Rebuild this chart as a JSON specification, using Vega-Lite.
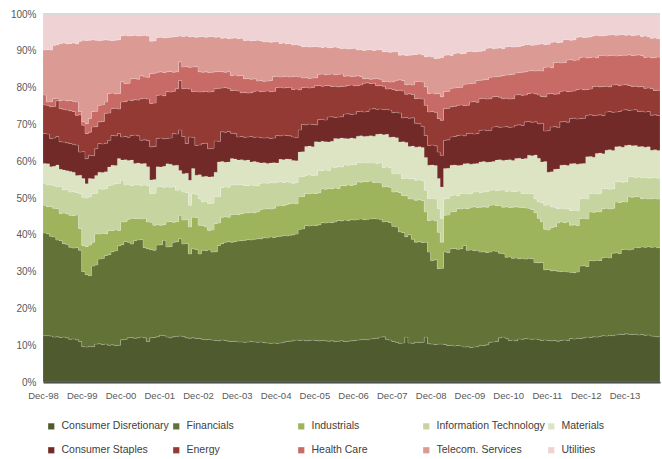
{
  "$schema": "https://vega.github.io/schema/vega-lite/v6.json",
  "width": 617,
  "height": 368,
  "autosize": {"type": "none"},
  "padding": {"left": 43, "top": 14, "right": 2, "bottom": 77},
  "background": "white",
  "config": {
    "font": "Liberation Sans, sans-serif",
    "view": {"stroke": null},
    "area": {"interpolate": "step-after", "stroke": "#ffffff", "strokeWidth": 0.5, "strokeOpacity": 0.3},
    "axis": {"labelFont": "Liberation Sans, sans-serif", "labelColor": "#595959", "labelFontSize": 10, "grid": false, "ticks": false, "title": null},
    "axisY": {"labelOverlap": false, "domain": false, "labelPadding": 7},
    "legend": {"orient": "bottom", "direction": "horizontal", "columns": 5, "gridAlign": "all", "symbolType": "square", "symbolSize": 40, "symbolStrokeWidth": 0, "labelFont": "Liberation Sans, sans-serif", "labelFontSize": 10.5, "labelColor": "#404040", "labelLimit": 0, "labelOffset": 5, "columnPadding": -1, "rowPadding": 13, "offset": 18, "padding": 3}
  },
  "data": {"values": [
{"date":"1998-12","cdTop":12.6,"finTop":40.5,"indTop":48.0,"itTop":54.0,"matTop":59.4,"csTop":67.5,"enTop":75.3,"hcTop":78.0,"telTop":90.2},
{"date":"1999-01","cdTop":12.6,"finTop":40.3,"indTop":47.6,"itTop":53.5,"matTop":59.3,"csTop":67.4,"enTop":75.2,"hcTop":76.1,"telTop":90.3},
{"date":"1999-02","cdTop":12.5,"finTop":39.6,"indTop":47.7,"itTop":53.6,"matTop":58.5,"csTop":66.2,"enTop":74.8,"hcTop":76.2,"telTop":90.2},
{"date":"1999-03","cdTop":12.2,"finTop":39.4,"indTop":47.2,"itTop":53.4,"matTop":58.6,"csTop":66.3,"enTop":74.9,"hcTop":77.0,"telTop":91.5},
{"date":"1999-04","cdTop":12.3,"finTop":38.6,"indTop":47.1,"itTop":53.0,"matTop":59.0,"csTop":66.7,"enTop":76.4,"hcTop":77.1,"telTop":91.6},
{"date":"1999-05","cdTop":12.1,"finTop":38.4,"indTop":45.8,"itTop":53.1,"matTop":57.8,"csTop":65.3,"enTop":74.3,"hcTop":76.5,"telTop":92.0},
{"date":"1999-06","cdTop":12.2,"finTop":37.6,"indTop":45.9,"itTop":52.2,"matTop":57.6,"csTop":65.2,"enTop":74.1,"hcTop":76.6,"telTop":92.1},
{"date":"1999-07","cdTop":12.0,"finTop":37.4,"indTop":45.7,"itTop":52.3,"matTop":57.4,"csTop":65.0,"enTop":73.9,"hcTop":76.4,"telTop":91.9},
{"date":"1999-08","cdTop":11.6,"finTop":36.6,"indTop":45.3,"itTop":51.6,"matTop":57.2,"csTop":64.8,"enTop":73.7,"hcTop":76.5,"telTop":92.0},
{"date":"1999-09","cdTop":11.7,"finTop":36.4,"indTop":45.2,"itTop":51.7,"matTop":57.0,"csTop":64.6,"enTop":73.5,"hcTop":76.3,"telTop":92.1},
{"date":"1999-10","cdTop":11.5,"finTop":36.5,"indTop":45.4,"itTop":51.5,"matTop":56.1,"csTop":64.4,"enTop":72.5,"hcTop":76.1,"telTop":91.9},
{"date":"1999-11","cdTop":11.0,"finTop":35.8,"indTop":41.7,"itTop":51.2,"matTop":56.2,"csTop":62.5,"enTop":72.6,"hcTop":73.5,"telTop":92.6},
{"date":"1999-12","cdTop":9.6,"finTop":30.0,"indTop":37.1,"itTop":50.2,"matTop":55.3,"csTop":62.6,"enTop":69.8,"hcTop":70.7,"telTop":92.9},
{"date":"2000-01","cdTop":9.5,"finTop":29.2,"indTop":36.8,"itTop":50.0,"matTop":53.9,"csTop":60.7,"enTop":67.5,"hcTop":70.2,"telTop":92.8},
{"date":"2000-02","cdTop":9.7,"finTop":28.9,"indTop":37.2,"itTop":50.3,"matTop":55.3,"csTop":61.6,"enTop":67.9,"hcTop":71.6,"telTop":92.9},
{"date":"2000-03","cdTop":9.6,"finTop":31.5,"indTop":38.0,"itTop":51.2,"matTop":55.2,"csTop":61.5,"enTop":69.3,"hcTop":73.5,"telTop":93.0},
{"date":"2000-04","cdTop":10.3,"finTop":31.8,"indTop":40.3,"itTop":51.3,"matTop":56.1,"csTop":63.4,"enTop":69.4,"hcTop":73.6,"telTop":92.9},
{"date":"2000-05","cdTop":10.4,"finTop":33.4,"indTop":40.2,"itTop":52.5,"matTop":57.0,"csTop":64.8,"enTop":70.7,"hcTop":75.2,"telTop":92.8},
{"date":"2000-06","cdTop":10.2,"finTop":33.6,"indTop":40.4,"itTop":52.4,"matTop":56.9,"csTop":64.7,"enTop":70.8,"hcTop":75.3,"telTop":92.9},
{"date":"2000-07","cdTop":10.3,"finTop":34.4,"indTop":40.3,"itTop":52.6,"matTop":57.1,"csTop":64.9,"enTop":73.0,"hcTop":76.1,"telTop":93.0},
{"date":"2000-08","cdTop":10.0,"finTop":34.6,"indTop":41.2,"itTop":53.4,"matTop":58.4,"csTop":65.7,"enTop":73.1,"hcTop":78.4,"telTop":92.9},
{"date":"2000-09","cdTop":10.1,"finTop":35.4,"indTop":41.1,"itTop":53.5,"matTop":58.9,"csTop":67.0,"enTop":74.3,"hcTop":78.5,"telTop":92.8},
{"date":"2000-10","cdTop":9.9,"finTop":35.6,"indTop":41.3,"itTop":53.9,"matTop":58.8,"csTop":66.9,"enTop":74.4,"hcTop":78.3,"telTop":92.9},
{"date":"2000-11","cdTop":10.0,"finTop":37.0,"indTop":41.2,"itTop":54.0,"matTop":60.7,"csTop":67.5,"enTop":74.2,"hcTop":78.4,"telTop":93.0},
{"date":"2000-12","cdTop":11.5,"finTop":37.3,"indTop":43.5,"itTop":54.8,"matTop":60.3,"csTop":66.6,"enTop":76.1,"hcTop":81.6,"telTop":94.1},
{"date":"2001-01","cdTop":11.6,"finTop":38.2,"indTop":43.6,"itTop":53.5,"matTop":60.4,"csTop":66.7,"enTop":76.2,"hcTop":81.1,"telTop":94.2},
{"date":"2001-02","cdTop":12.0,"finTop":38.0,"indTop":44.2,"itTop":53.6,"matTop":60.2,"csTop":66.5,"enTop":76.6,"hcTop":81.2,"telTop":94.0},
{"date":"2001-03","cdTop":12.1,"finTop":37.5,"indTop":44.5,"itTop":53.4,"matTop":60.3,"csTop":67.0,"enTop":76.5,"hcTop":82.4,"telTop":94.1},
{"date":"2001-04","cdTop":11.9,"finTop":38.4,"indTop":44.4,"itTop":53.5,"matTop":59.4,"csTop":67.1,"enTop":76.7,"hcTop":82.5,"telTop":94.2},
{"date":"2001-05","cdTop":12.0,"finTop":38.6,"indTop":44.4,"itTop":53.6,"matTop":59.5,"csTop":66.9,"enTop":76.6,"hcTop":82.3,"telTop":94.0},
{"date":"2001-06","cdTop":12.2,"finTop":38.7,"indTop":44.3,"itTop":53.4,"matTop":59.3,"csTop":65.7,"enTop":77.0,"hcTop":83.3,"telTop":94.1},
{"date":"2001-07","cdTop":12.0,"finTop":36.5,"indTop":44.5,"itTop":53.5,"matTop":59.4,"csTop":65.8,"enTop":77.1,"hcTop":82.9,"telTop":94.2},
{"date":"2001-08","cdTop":11.0,"finTop":36.2,"indTop":43.5,"itTop":53.3,"matTop":58.5,"csTop":65.6,"enTop":76.9,"hcTop":82.8,"telTop":94.0},
{"date":"2001-09","cdTop":12.0,"finTop":36.0,"indTop":43.4,"itTop":51.2,"matTop":54.9,"csTop":63.9,"enTop":75.7,"hcTop":83.8,"telTop":92.6},
{"date":"2001-10","cdTop":12.1,"finTop":35.8,"indTop":42.6,"itTop":51.3,"matTop":55.0,"csTop":64.0,"enTop":75.8,"hcTop":83.9,"telTop":92.7},
{"date":"2001-11","cdTop":12.3,"finTop":37.2,"indTop":42.7,"itTop":53.0,"matTop":58.5,"csTop":66.2,"enTop":77.9,"hcTop":84.2,"telTop":93.6},
{"date":"2001-12","cdTop":12.7,"finTop":37.3,"indTop":42.6,"itTop":53.1,"matTop":58.4,"csTop":66.3,"enTop":78.0,"hcTop":84.3,"telTop":93.7},
{"date":"2002-01","cdTop":12.6,"finTop":38.5,"indTop":42.8,"itTop":52.9,"matTop":58.6,"csTop":66.1,"enTop":77.8,"hcTop":84.1,"telTop":93.5},
{"date":"2002-02","cdTop":12.2,"finTop":36.7,"indTop":43.5,"itTop":53.0,"matTop":59.3,"csTop":66.2,"enTop":78.9,"hcTop":84.3,"telTop":93.6},
{"date":"2002-03","cdTop":12.0,"finTop":36.8,"indTop":43.6,"itTop":52.9,"matTop":59.2,"csTop":66.3,"enTop":78.8,"hcTop":84.4,"telTop":93.7},
{"date":"2002-04","cdTop":12.3,"finTop":38.0,"indTop":43.4,"itTop":53.1,"matTop":58.8,"csTop":67.5,"enTop":79.0,"hcTop":84.2,"telTop":93.8},
{"date":"2002-05","cdTop":12.4,"finTop":38.1,"indTop":43.6,"itTop":52.1,"matTop":58.9,"csTop":67.4,"enTop":79.7,"hcTop":84.3,"telTop":93.9},
{"date":"2002-06","cdTop":12.5,"finTop":38.9,"indTop":45.3,"itTop":52.2,"matTop":57.5,"csTop":68.5,"enTop":81.9,"hcTop":87.0,"telTop":94.0},
{"date":"2002-07","cdTop":12.4,"finTop":37.5,"indTop":44.0,"itTop":51.6,"matTop":56.6,"csTop":66.7,"enTop":79.7,"hcTop":85.6,"telTop":93.9},
{"date":"2002-08","cdTop":12.0,"finTop":37.6,"indTop":44.1,"itTop":51.5,"matTop":56.7,"csTop":64.8,"enTop":79.8,"hcTop":85.7,"telTop":94.0},
{"date":"2002-09","cdTop":11.9,"finTop":34.8,"indTop":42.1,"itTop":48.0,"matTop":54.8,"csTop":66.6,"enTop":79.6,"hcTop":85.5,"telTop":93.8},
{"date":"2002-10","cdTop":12.0,"finTop":36.2,"indTop":44.8,"itTop":51.2,"matTop":58.0,"csTop":66.5,"enTop":78.9,"hcTop":85.6,"telTop":93.9},
{"date":"2002-11","cdTop":11.8,"finTop":36.0,"indTop":44.7,"itTop":51.0,"matTop":56.2,"csTop":64.3,"enTop":79.0,"hcTop":85.7,"telTop":93.7},
{"date":"2002-12","cdTop":11.8,"finTop":34.8,"indTop":42.6,"itTop":49.8,"matTop":56.3,"csTop":64.4,"enTop":78.8,"hcTop":84.3,"telTop":93.8},
{"date":"2003-01","cdTop":11.6,"finTop":35.8,"indTop":42.5,"itTop":49.0,"matTop":55.8,"csTop":64.8,"enTop":78.9,"hcTop":84.2,"telTop":93.9},
{"date":"2003-02","cdTop":11.5,"finTop":35.7,"indTop":42.1,"itTop":49.1,"matTop":55.9,"csTop":64.9,"enTop":79.0,"hcTop":84.3,"telTop":93.7},
{"date":"2003-03","cdTop":11.6,"finTop":35.9,"indTop":41.2,"itTop":48.5,"matTop":55.7,"csTop":63.4,"enTop":78.8,"hcTop":84.1,"telTop":93.8},
{"date":"2003-04","cdTop":11.4,"finTop":35.3,"indTop":41.3,"itTop":48.6,"matTop":55.8,"csTop":63.5,"enTop":78.9,"hcTop":84.2,"telTop":93.9},
{"date":"2003-05","cdTop":11.3,"finTop":35.4,"indTop":43.0,"itTop":50.5,"matTop":57.0,"csTop":65.5,"enTop":79.7,"hcTop":84.3,"telTop":93.7},
{"date":"2003-06","cdTop":11.2,"finTop":37.1,"indTop":43.2,"itTop":50.4,"matTop":59.8,"csTop":65.4,"enTop":79.8,"hcTop":84.4,"telTop":93.8},
{"date":"2003-07","cdTop":11.4,"finTop":37.6,"indTop":44.8,"itTop":52.8,"matTop":59.9,"csTop":68.0,"enTop":79.9,"hcTop":84.3,"telTop":93.4},
{"date":"2003-08","cdTop":11.3,"finTop":38.0,"indTop":44.9,"itTop":53.0,"matTop":59.7,"csTop":67.9,"enTop":80.0,"hcTop":84.2,"telTop":93.5},
{"date":"2003-09","cdTop":11.1,"finTop":38.1,"indTop":44.8,"itTop":52.9,"matTop":59.8,"csTop":68.1,"enTop":79.8,"hcTop":84.3,"telTop":93.3},
{"date":"2003-10","cdTop":11.0,"finTop":38.0,"indTop":45.5,"itTop":53.6,"matTop":60.7,"csTop":67.6,"enTop":79.2,"hcTop":83.3,"telTop":93.4},
{"date":"2003-11","cdTop":11.1,"finTop":38.2,"indTop":45.6,"itTop":53.5,"matTop":60.6,"csTop":67.5,"enTop":79.3,"hcTop":83.4,"telTop":93.5},
{"date":"2003-12","cdTop":10.9,"finTop":38.3,"indTop":45.5,"itTop":53.7,"matTop":60.3,"csTop":66.6,"enTop":79.1,"hcTop":83.2,"telTop":93.3},
{"date":"2004-01","cdTop":10.9,"finTop":38.4,"indTop":45.7,"itTop":53.6,"matTop":60.4,"csTop":66.7,"enTop":78.6,"hcTop":83.3,"telTop":93.4},
{"date":"2004-02","cdTop":10.8,"finTop":38.5,"indTop":45.9,"itTop":53.4,"matTop":60.2,"csTop":66.5,"enTop":78.7,"hcTop":82.4,"telTop":92.8},
{"date":"2004-03","cdTop":10.9,"finTop":38.7,"indTop":46.0,"itTop":53.3,"matTop":60.3,"csTop":66.6,"enTop":78.5,"hcTop":82.5,"telTop":92.9},
{"date":"2004-04","cdTop":11.0,"finTop":38.6,"indTop":46.1,"itTop":53.5,"matTop":59.8,"csTop":66.7,"enTop":78.6,"hcTop":82.3,"telTop":92.7},
{"date":"2004-05","cdTop":10.9,"finTop":38.8,"indTop":46.0,"itTop":53.4,"matTop":59.9,"csTop":66.5,"enTop":79.0,"hcTop":82.4,"telTop":92.8},
{"date":"2004-06","cdTop":10.8,"finTop":38.9,"indTop":46.2,"itTop":53.3,"matTop":59.7,"csTop":66.6,"enTop":79.1,"hcTop":81.8,"telTop":92.9},
{"date":"2004-07","cdTop":10.9,"finTop":38.9,"indTop":46.9,"itTop":54.0,"matTop":59.5,"csTop":66.4,"enTop":78.9,"hcTop":81.9,"telTop":92.7},
{"date":"2004-08","cdTop":10.7,"finTop":39.2,"indTop":47.0,"itTop":54.1,"matTop":59.6,"csTop":66.3,"enTop":79.0,"hcTop":81.7,"telTop":92.4},
{"date":"2004-09","cdTop":10.6,"finTop":39.1,"indTop":47.1,"itTop":54.0,"matTop":59.4,"csTop":66.4,"enTop":79.1,"hcTop":81.8,"telTop":92.5},
{"date":"2004-10","cdTop":10.5,"finTop":39.4,"indTop":47.0,"itTop":54.2,"matTop":59.5,"csTop":66.2,"enTop":78.9,"hcTop":81.9,"telTop":92.3},
{"date":"2004-11","cdTop":10.6,"finTop":39.3,"indTop":47.2,"itTop":54.1,"matTop":59.6,"csTop":66.3,"enTop":79.0,"hcTop":83.0,"telTop":92.4},
{"date":"2004-12","cdTop":10.5,"finTop":39.5,"indTop":47.8,"itTop":54.3,"matTop":59.5,"csTop":67.0,"enTop":80.0,"hcTop":83.1,"telTop":92.5},
{"date":"2005-01","cdTop":10.6,"finTop":39.6,"indTop":48.0,"itTop":54.4,"matTop":60.5,"csTop":66.9,"enTop":80.1,"hcTop":82.9,"telTop":92.0},
{"date":"2005-02","cdTop":10.8,"finTop":39.8,"indTop":47.9,"itTop":54.2,"matTop":60.4,"csTop":67.1,"enTop":79.9,"hcTop":83.0,"telTop":92.1},
{"date":"2005-03","cdTop":11.0,"finTop":39.7,"indTop":48.2,"itTop":54.5,"matTop":60.6,"csTop":67.0,"enTop":80.0,"hcTop":83.1,"telTop":91.9},
{"date":"2005-04","cdTop":11.1,"finTop":39.9,"indTop":48.5,"itTop":54.3,"matTop":60.5,"csTop":66.9,"enTop":80.1,"hcTop":82.9,"telTop":92.0},
{"date":"2005-05","cdTop":11.2,"finTop":40.0,"indTop":48.6,"itTop":54.0,"matTop":60.2,"csTop":66.6,"enTop":79.5,"hcTop":83.0,"telTop":91.6},
{"date":"2005-06","cdTop":11.4,"finTop":40.2,"indTop":48.4,"itTop":54.2,"matTop":60.1,"csTop":66.4,"enTop":79.6,"hcTop":83.1,"telTop":91.7},
{"date":"2005-07","cdTop":11.3,"finTop":41.5,"indTop":50.3,"itTop":55.7,"matTop":62.5,"csTop":68.5,"enTop":79.4,"hcTop":82.9,"telTop":91.5},
{"date":"2005-08","cdTop":11.4,"finTop":41.6,"indTop":50.4,"itTop":55.8,"matTop":62.6,"csTop":70.0,"enTop":80.0,"hcTop":82.6,"telTop":91.1},
{"date":"2005-09","cdTop":11.2,"finTop":42.5,"indTop":51.2,"itTop":56.2,"matTop":64.0,"csTop":69.9,"enTop":80.1,"hcTop":82.7,"telTop":91.2},
{"date":"2005-10","cdTop":11.3,"finTop":42.4,"indTop":51.1,"itTop":56.3,"matTop":64.1,"csTop":70.1,"enTop":79.9,"hcTop":82.5,"telTop":91.0},
{"date":"2005-11","cdTop":11.4,"finTop":42.6,"indTop":51.3,"itTop":56.1,"matTop":63.9,"csTop":70.0,"enTop":80.0,"hcTop":82.6,"telTop":91.1},
{"date":"2005-12","cdTop":11.3,"finTop":42.5,"indTop":51.2,"itTop":56.2,"matTop":65.3,"csTop":69.9,"enTop":80.5,"hcTop":82.7,"telTop":91.2},
{"date":"2006-01","cdTop":11.2,"finTop":42.7,"indTop":51.4,"itTop":57.5,"matTop":65.2,"csTop":71.3,"enTop":80.6,"hcTop":83.6,"telTop":91.0},
{"date":"2006-02","cdTop":11.3,"finTop":43.3,"indTop":52.5,"itTop":57.4,"matTop":65.4,"csTop":71.4,"enTop":80.4,"hcTop":83.7,"telTop":90.9},
{"date":"2006-03","cdTop":11.2,"finTop":43.2,"indTop":52.4,"itTop":57.6,"matTop":65.3,"csTop":71.2,"enTop":80.5,"hcTop":83.5,"telTop":91.0},
{"date":"2006-04","cdTop":11.1,"finTop":43.4,"indTop":52.6,"itTop":57.5,"matTop":65.2,"csTop":72.0,"enTop":80.6,"hcTop":83.6,"telTop":90.8},
{"date":"2006-05","cdTop":11.2,"finTop":43.3,"indTop":52.5,"itTop":58.4,"matTop":65.4,"csTop":72.1,"enTop":80.3,"hcTop":83.7,"telTop":90.9},
{"date":"2006-06","cdTop":11.0,"finTop":43.5,"indTop":52.7,"itTop":58.3,"matTop":66.2,"csTop":71.9,"enTop":80.4,"hcTop":83.5,"telTop":91.0},
{"date":"2006-07","cdTop":11.1,"finTop":43.9,"indTop":52.6,"itTop":58.5,"matTop":66.1,"csTop":72.0,"enTop":80.2,"hcTop":83.6,"telTop":90.8},
{"date":"2006-08","cdTop":11.2,"finTop":43.8,"indTop":53.4,"itTop":58.4,"matTop":66.3,"csTop":72.1,"enTop":80.3,"hcTop":83.7,"telTop":90.6},
{"date":"2006-09","cdTop":11.0,"finTop":44.0,"indTop":53.3,"itTop":59.0,"matTop":66.2,"csTop":72.8,"enTop":80.4,"hcTop":83.1,"telTop":90.7},
{"date":"2006-10","cdTop":11.1,"finTop":43.9,"indTop":53.5,"itTop":58.9,"matTop":66.1,"csTop":72.9,"enTop":80.6,"hcTop":83.2,"telTop":90.5},
{"date":"2006-11","cdTop":11.2,"finTop":44.1,"indTop":53.4,"itTop":59.1,"matTop":66.3,"csTop":72.7,"enTop":80.7,"hcTop":83.0,"telTop":90.6},
{"date":"2006-12","cdTop":11.3,"finTop":44.0,"indTop":53.6,"itTop":59.0,"matTop":66.2,"csTop":72.8,"enTop":80.5,"hcTop":83.1,"telTop":90.7},
{"date":"2007-01","cdTop":11.4,"finTop":44.2,"indTop":54.4,"itTop":59.6,"matTop":66.8,"csTop":73.5,"enTop":80.6,"hcTop":83.2,"telTop":90.2},
{"date":"2007-02","cdTop":11.5,"finTop":44.3,"indTop":54.3,"itTop":59.5,"matTop":66.9,"csTop":73.6,"enTop":80.7,"hcTop":83.0,"telTop":90.3},
{"date":"2007-03","cdTop":11.6,"finTop":44.1,"indTop":54.5,"itTop":59.7,"matTop":66.7,"csTop":73.4,"enTop":81.2,"hcTop":82.4,"telTop":90.1},
{"date":"2007-04","cdTop":11.5,"finTop":44.2,"indTop":54.4,"itTop":59.6,"matTop":66.8,"csTop":73.5,"enTop":81.3,"hcTop":82.5,"telTop":90.2},
{"date":"2007-05","cdTop":11.7,"finTop":44.3,"indTop":54.6,"itTop":59.5,"matTop":66.9,"csTop":74.2,"enTop":81.1,"hcTop":82.3,"telTop":90.3},
{"date":"2007-06","cdTop":11.8,"finTop":44.4,"indTop":54.2,"itTop":59.5,"matTop":66.8,"csTop":74.3,"enTop":81.2,"hcTop":82.4,"telTop":90.1},
{"date":"2007-07","cdTop":11.9,"finTop":44.3,"indTop":54.3,"itTop":59.4,"matTop":67.3,"csTop":74.1,"enTop":80.5,"hcTop":82.5,"telTop":90.2},
{"date":"2007-08","cdTop":12.2,"finTop":44.2,"indTop":54.1,"itTop":59.6,"matTop":67.4,"csTop":74.2,"enTop":80.6,"hcTop":82.3,"telTop":90.3},
{"date":"2007-09","cdTop":12.3,"finTop":43.5,"indTop":53.0,"itTop":58.3,"matTop":67.2,"csTop":74.0,"enTop":80.4,"hcTop":81.6,"telTop":89.7},
{"date":"2007-10","cdTop":11.6,"finTop":43.6,"indTop":53.1,"itTop":58.4,"matTop":67.3,"csTop":74.1,"enTop":79.6,"hcTop":81.7,"telTop":89.8},
{"date":"2007-11","cdTop":11.4,"finTop":43.3,"indTop":52.9,"itTop":58.2,"matTop":66.5,"csTop":73.9,"enTop":79.7,"hcTop":81.5,"telTop":89.6},
{"date":"2007-12","cdTop":11.0,"finTop":42.3,"indTop":51.6,"itTop":56.6,"matTop":66.6,"csTop":73.2,"enTop":79.5,"hcTop":81.6,"telTop":89.7},
{"date":"2008-01","cdTop":10.8,"finTop":42.1,"indTop":51.7,"itTop":56.7,"matTop":66.4,"csTop":73.3,"enTop":79.2,"hcTop":82.0,"telTop":89.8},
{"date":"2008-02","cdTop":10.5,"finTop":40.8,"indTop":51.5,"itTop":56.5,"matTop":65.2,"csTop":73.1,"enTop":79.3,"hcTop":82.1,"telTop":88.8},
{"date":"2008-03","cdTop":10.6,"finTop":40.6,"indTop":50.7,"itTop":55.3,"matTop":65.3,"csTop":71.8,"enTop":79.1,"hcTop":81.9,"telTop":88.9},
{"date":"2008-04","cdTop":12.2,"finTop":39.5,"indTop":50.6,"itTop":55.4,"matTop":65.1,"csTop":71.9,"enTop":78.2,"hcTop":80.8,"telTop":88.7},
{"date":"2008-05","cdTop":10.6,"finTop":40.0,"indTop":49.8,"itTop":55.2,"matTop":64.0,"csTop":71.7,"enTop":78.3,"hcTop":80.9,"telTop":88.8},
{"date":"2008-06","cdTop":10.5,"finTop":38.8,"indTop":49.7,"itTop":55.3,"matTop":64.1,"csTop":71.8,"enTop":78.1,"hcTop":80.7,"telTop":88.9},
{"date":"2008-07","cdTop":10.8,"finTop":38.0,"indTop":49.4,"itTop":54.8,"matTop":63.8,"csTop":70.3,"enTop":77.0,"hcTop":81.6,"telTop":89.0},
{"date":"2008-08","cdTop":10.7,"finTop":38.1,"indTop":49.5,"itTop":54.9,"matTop":63.9,"csTop":70.2,"enTop":77.1,"hcTop":81.7,"telTop":89.1},
{"date":"2008-09","cdTop":10.8,"finTop":37.9,"indTop":49.3,"itTop":54.7,"matTop":63.7,"csTop":69.5,"enTop":76.9,"hcTop":81.5,"telTop":88.9},
{"date":"2008-10","cdTop":12.2,"finTop":38.0,"indTop":46.2,"itTop":52.1,"matTop":61.0,"csTop":67.0,"enTop":75.2,"hcTop":80.2,"telTop":88.4},
{"date":"2008-11","cdTop":10.4,"finTop":35.3,"indTop":43.9,"itTop":49.8,"matTop":58.9,"csTop":64.3,"enTop":73.4,"hcTop":78.4,"telTop":88.5},
{"date":"2008-12","cdTop":10.3,"finTop":33.0,"indTop":44.0,"itTop":49.9,"matTop":59.0,"csTop":64.4,"enTop":73.5,"hcTop":78.5,"telTop":88.3},
{"date":"2009-01","cdTop":10.2,"finTop":33.2,"indTop":43.8,"itTop":49.7,"matTop":58.8,"csTop":64.2,"enTop":73.3,"hcTop":78.3,"telTop":87.9},
{"date":"2009-02","cdTop":10.3,"finTop":30.8,"indTop":40.7,"itTop":47.1,"matTop":55.3,"csTop":62.5,"enTop":71.6,"hcTop":78.4,"telTop":88.0},
{"date":"2009-03","cdTop":10.3,"finTop":30.9,"indTop":38.0,"itTop":44.4,"matTop":53.0,"csTop":61.6,"enTop":71.1,"hcTop":77.5,"telTop":88.2},
{"date":"2009-04","cdTop":10.2,"finTop":35.3,"indTop":45.3,"itTop":49.8,"matTop":58.0,"csTop":65.7,"enTop":74.3,"hcTop":78.9,"telTop":88.8},
{"date":"2009-05","cdTop":9.9,"finTop":35.2,"indTop":45.4,"itTop":49.9,"matTop":58.1,"csTop":65.8,"enTop":74.4,"hcTop":79.0,"telTop":88.9},
{"date":"2009-06","cdTop":10.0,"finTop":36.2,"indTop":46.2,"itTop":50.7,"matTop":58.9,"csTop":66.6,"enTop":74.8,"hcTop":79.8,"telTop":88.7},
{"date":"2009-07","cdTop":9.8,"finTop":36.3,"indTop":46.3,"itTop":50.8,"matTop":59.0,"csTop":66.7,"enTop":74.9,"hcTop":79.9,"telTop":89.3},
{"date":"2009-08","cdTop":9.9,"finTop":36.1,"indTop":47.1,"itTop":50.6,"matTop":58.8,"csTop":67.0,"enTop":75.2,"hcTop":80.0,"telTop":89.4},
{"date":"2009-09","cdTop":9.8,"finTop":36.2,"indTop":47.0,"itTop":51.2,"matTop":58.9,"csTop":67.1,"enTop":75.3,"hcTop":80.1,"telTop":89.2},
{"date":"2009-10","cdTop":9.5,"finTop":37.1,"indTop":47.2,"itTop":51.3,"matTop":59.3,"csTop":66.9,"enTop":75.1,"hcTop":80.9,"telTop":89.3},
{"date":"2009-11","cdTop":9.6,"finTop":35.8,"indTop":47.1,"itTop":51.1,"matTop":59.4,"csTop":67.5,"enTop":75.2,"hcTop":81.0,"telTop":89.8},
{"date":"2009-12","cdTop":9.4,"finTop":35.9,"indTop":47.5,"itTop":51.2,"matTop":59.2,"csTop":67.6,"enTop":76.1,"hcTop":81.1,"telTop":89.9},
{"date":"2010-01","cdTop":9.5,"finTop":35.7,"indTop":47.6,"itTop":51.6,"matTop":59.3,"csTop":67.4,"enTop":76.2,"hcTop":81.2,"telTop":89.7},
{"date":"2010-02","cdTop":9.6,"finTop":35.8,"indTop":47.4,"itTop":51.7,"matTop":59.4,"csTop":67.5,"enTop":76.0,"hcTop":81.9,"telTop":89.8},
{"date":"2010-03","cdTop":10.0,"finTop":35.3,"indTop":47.5,"itTop":51.5,"matTop":59.8,"csTop":68.4,"enTop":77.0,"hcTop":82.0,"telTop":89.9},
{"date":"2010-04","cdTop":9.9,"finTop":35.4,"indTop":47.6,"itTop":51.6,"matTop":59.9,"csTop":68.5,"enTop":77.1,"hcTop":82.1,"telTop":90.1},
{"date":"2010-05","cdTop":10.1,"finTop":35.2,"indTop":47.5,"itTop":51.7,"matTop":59.7,"csTop":68.3,"enTop":76.9,"hcTop":82.2,"telTop":90.7},
{"date":"2010-06","cdTop":10.8,"finTop":35.3,"indTop":48.0,"itTop":52.1,"matTop":59.8,"csTop":68.4,"enTop":77.0,"hcTop":82.8,"telTop":90.8},
{"date":"2010-07","cdTop":10.9,"finTop":35.6,"indTop":48.1,"itTop":52.2,"matTop":59.9,"csTop":69.3,"enTop":77.5,"hcTop":82.9,"telTop":90.6},
{"date":"2010-08","cdTop":11.0,"finTop":35.5,"indTop":47.9,"itTop":52.0,"matTop":60.3,"csTop":69.4,"enTop":77.6,"hcTop":83.0,"telTop":90.7},
{"date":"2010-09","cdTop":12.0,"finTop":35.0,"indTop":48.0,"itTop":52.1,"matTop":60.4,"csTop":69.2,"enTop":77.4,"hcTop":83.1,"telTop":90.8},
{"date":"2010-10","cdTop":12.2,"finTop":34.9,"indTop":47.5,"itTop":52.2,"matTop":60.2,"csTop":69.3,"enTop":77.0,"hcTop":83.3,"telTop":90.6},
{"date":"2010-11","cdTop":11.9,"finTop":33.9,"indTop":47.6,"itTop":51.8,"matTop":60.3,"csTop":69.4,"enTop":77.1,"hcTop":83.4,"telTop":91.1},
{"date":"2010-12","cdTop":11.3,"finTop":34.0,"indTop":47.4,"itTop":51.9,"matTop":60.4,"csTop":69.2,"enTop":76.9,"hcTop":83.5,"telTop":91.2},
{"date":"2011-01","cdTop":11.4,"finTop":33.6,"indTop":47.5,"itTop":51.7,"matTop":60.2,"csTop":69.3,"enTop":77.0,"hcTop":83.6,"telTop":91.0},
{"date":"2011-02","cdTop":11.2,"finTop":33.7,"indTop":47.6,"itTop":51.8,"matTop":60.7,"csTop":69.8,"enTop":78.0,"hcTop":84.0,"telTop":91.1},
{"date":"2011-03","cdTop":11.7,"finTop":33.5,"indTop":47.5,"itTop":51.9,"matTop":60.8,"csTop":69.9,"enTop":78.1,"hcTop":84.1,"telTop":91.2},
{"date":"2011-04","cdTop":11.6,"finTop":33.6,"indTop":47.4,"itTop":51.2,"matTop":60.6,"csTop":69.7,"enTop":77.9,"hcTop":84.2,"telTop":91.4},
{"date":"2011-05","cdTop":11.8,"finTop":33.4,"indTop":47.3,"itTop":51.3,"matTop":60.7,"csTop":70.7,"enTop":78.0,"hcTop":84.3,"telTop":91.6},
{"date":"2011-06","cdTop":11.7,"finTop":33.6,"indTop":47.2,"itTop":51.1,"matTop":61.6,"csTop":70.8,"enTop":78.4,"hcTop":84.5,"telTop":91.7},
{"date":"2011-07","cdTop":11.6,"finTop":33.5,"indTop":46.9,"itTop":51.2,"matTop":61.5,"csTop":70.6,"enTop":78.5,"hcTop":84.6,"telTop":91.5},
{"date":"2011-08","cdTop":11.7,"finTop":32.5,"indTop":46.0,"itTop":49.8,"matTop":61.7,"csTop":70.7,"enTop":78.3,"hcTop":84.5,"telTop":91.6},
{"date":"2011-09","cdTop":11.5,"finTop":32.4,"indTop":44.5,"itTop":48.9,"matTop":60.8,"csTop":70.2,"enTop":78.0,"hcTop":84.6,"telTop":91.8},
{"date":"2011-10","cdTop":11.3,"finTop":32.5,"indTop":43.5,"itTop":48.8,"matTop":59.8,"csTop":70.3,"enTop":77.6,"hcTop":84.5,"telTop":91.9},
{"date":"2011-11","cdTop":11.4,"finTop":30.5,"indTop":41.5,"itTop":48.0,"matTop":59.9,"csTop":68.2,"enTop":77.5,"hcTop":85.5,"telTop":91.7},
{"date":"2011-12","cdTop":11.3,"finTop":30.6,"indTop":41.3,"itTop":48.1,"matTop":57.0,"csTop":68.3,"enTop":78.3,"hcTop":85.6,"telTop":91.8},
{"date":"2012-01","cdTop":11.2,"finTop":30.2,"indTop":42.0,"itTop":47.6,"matTop":57.1,"csTop":69.3,"enTop":78.4,"hcTop":85.4,"telTop":92.3},
{"date":"2012-02","cdTop":11.3,"finTop":30.3,"indTop":42.2,"itTop":47.5,"matTop":57.8,"csTop":69.4,"enTop":78.2,"hcTop":86.8,"telTop":92.4},
{"date":"2012-03","cdTop":11.1,"finTop":30.1,"indTop":43.2,"itTop":47.1,"matTop":57.9,"csTop":69.2,"enTop":78.3,"hcTop":86.9,"telTop":92.2},
{"date":"2012-04","cdTop":11.3,"finTop":30.0,"indTop":43.5,"itTop":47.2,"matTop":58.9,"csTop":70.7,"enTop":79.0,"hcTop":86.7,"telTop":92.3},
{"date":"2012-05","cdTop":11.4,"finTop":30.1,"indTop":43.3,"itTop":47.0,"matTop":59.0,"csTop":70.8,"enTop":79.1,"hcTop":86.8,"telTop":93.0},
{"date":"2012-06","cdTop":11.3,"finTop":29.9,"indTop":43.5,"itTop":47.1,"matTop":58.8,"csTop":70.6,"enTop":78.9,"hcTop":87.5,"telTop":93.1},
{"date":"2012-07","cdTop":11.8,"finTop":29.8,"indTop":42.6,"itTop":46.6,"matTop":59.3,"csTop":71.6,"enTop":79.0,"hcTop":87.6,"telTop":92.9},
{"date":"2012-08","cdTop":11.7,"finTop":29.7,"indTop":42.7,"itTop":46.7,"matTop":59.4,"csTop":71.7,"enTop":79.1,"hcTop":87.4,"telTop":93.0},
{"date":"2012-09","cdTop":11.9,"finTop":29.9,"indTop":42.5,"itTop":46.5,"matTop":59.2,"csTop":71.5,"enTop":79.5,"hcTop":87.5,"telTop":93.7},
{"date":"2012-10","cdTop":11.8,"finTop":31.5,"indTop":44.4,"itTop":49.8,"matTop":59.3,"csTop":71.6,"enTop":79.6,"hcTop":88.2,"telTop":93.8},
{"date":"2012-11","cdTop":12.0,"finTop":31.6,"indTop":44.5,"itTop":49.9,"matTop":59.4,"csTop":71.7,"enTop":79.4,"hcTop":88.3,"telTop":93.6},
{"date":"2012-12","cdTop":12.2,"finTop":31.4,"indTop":44.3,"itTop":49.7,"matTop":61.2,"csTop":72.5,"enTop":79.5,"hcTop":88.1,"telTop":93.7},
{"date":"2013-01","cdTop":12.1,"finTop":33.0,"indTop":46.2,"itTop":51.2,"matTop":61.3,"csTop":72.6,"enTop":79.6,"hcTop":88.2,"telTop":93.8},
{"date":"2013-02","cdTop":12.3,"finTop":32.9,"indTop":46.1,"itTop":51.3,"matTop":61.1,"csTop":72.4,"enTop":80.3,"hcTop":88.3,"telTop":94.1},
{"date":"2013-03","cdTop":12.2,"finTop":33.1,"indTop":46.3,"itTop":51.1,"matTop":62.1,"csTop":72.5,"enTop":80.4,"hcTop":88.1,"telTop":94.2},
{"date":"2013-04","cdTop":12.4,"finTop":33.0,"indTop":46.2,"itTop":51.2,"matTop":62.2,"csTop":72.6,"enTop":80.2,"hcTop":88.7,"telTop":94.0},
{"date":"2013-05","cdTop":12.6,"finTop":33.8,"indTop":47.1,"itTop":52.5,"matTop":62.0,"csTop":72.4,"enTop":80.3,"hcTop":88.8,"telTop":94.1},
{"date":"2013-06","cdTop":12.5,"finTop":33.9,"indTop":47.2,"itTop":52.6,"matTop":63.0,"csTop":73.4,"enTop":80.4,"hcTop":88.6,"telTop":94.2},
{"date":"2013-07","cdTop":12.7,"finTop":33.7,"indTop":47.0,"itTop":52.4,"matTop":63.1,"csTop":73.5,"enTop":80.2,"hcTop":88.7,"telTop":94.3},
{"date":"2013-08","cdTop":12.6,"finTop":35.0,"indTop":47.2,"itTop":52.5,"matTop":62.9,"csTop":73.3,"enTop":80.7,"hcTop":88.8,"telTop":94.4},
{"date":"2013-09","cdTop":12.8,"finTop":35.1,"indTop":48.9,"itTop":54.4,"matTop":63.9,"csTop":73.4,"enTop":80.8,"hcTop":88.6,"telTop":94.2},
{"date":"2013-10","cdTop":13.0,"finTop":34.9,"indTop":48.8,"itTop":54.5,"matTop":64.0,"csTop":73.5,"enTop":80.6,"hcTop":88.7,"telTop":94.3},
{"date":"2013-11","cdTop":12.9,"finTop":36.0,"indTop":49.0,"itTop":54.3,"matTop":63.8,"csTop":73.9,"enTop":80.7,"hcTop":88.8,"telTop":94.4},
{"date":"2013-12","cdTop":13.1,"finTop":36.1,"indTop":48.9,"itTop":54.4,"matTop":64.3,"csTop":74.0,"enTop":80.8,"hcTop":88.8,"telTop":94.2},
{"date":"2014-01","cdTop":13.0,"finTop":35.9,"indTop":50.3,"itTop":55.7,"matTop":64.4,"csTop":73.8,"enTop":80.6,"hcTop":88.9,"telTop":94.3},
{"date":"2014-02","cdTop":12.9,"finTop":36.1,"indTop":50.2,"itTop":55.8,"matTop":64.2,"csTop":73.9,"enTop":80.3,"hcTop":88.7,"telTop":94.1},
{"date":"2014-03","cdTop":13.0,"finTop":36.6,"indTop":50.4,"itTop":55.6,"matTop":64.3,"csTop":74.0,"enTop":80.4,"hcTop":88.8,"telTop":94.2},
{"date":"2014-04","cdTop":12.8,"finTop":36.5,"indTop":50.3,"itTop":55.7,"matTop":63.9,"csTop":73.5,"enTop":80.2,"hcTop":88.9,"telTop":94.3},
{"date":"2014-05","cdTop":12.9,"finTop":36.7,"indTop":49.8,"itTop":55.5,"matTop":64.0,"csTop":73.6,"enTop":80.3,"hcTop":88.7,"telTop":93.9},
{"date":"2014-06","cdTop":12.7,"finTop":36.6,"indTop":49.9,"itTop":55.6,"matTop":63.8,"csTop":73.4,"enTop":79.8,"hcTop":88.2,"telTop":94.0},
{"date":"2014-07","cdTop":12.8,"finTop":36.8,"indTop":49.7,"itTop":55.4,"matTop":63.9,"csTop":73.5,"enTop":79.9,"hcTop":88.3,"telTop":93.8},
{"date":"2014-08","cdTop":12.5,"finTop":36.6,"indTop":49.8,"itTop":55.5,"matTop":63.0,"csTop":72.5,"enTop":79.7,"hcTop":88.1,"telTop":93.4},
{"date":"2014-09","cdTop":12.4,"finTop":36.7,"indTop":49.9,"itTop":55.6,"matTop":63.1,"csTop":72.6,"enTop":79.2,"hcTop":88.2,"telTop":93.5},
{"date":"2014-10","cdTop":12.3,"finTop":36.5,"indTop":49.7,"itTop":55.4,"matTop":62.9,"csTop":72.4,"enTop":79.3,"hcTop":88.3,"telTop":93.3},
{"date":"2014-11","cdTop":12.4,"finTop":36.6,"indTop":49.8,"itTop":55.5,"matTop":63.0,"csTop":72.5,"enTop":79.1,"hcTop":88.1,"telTop":93.4}
  ]},
  "layer": [
    {
      "encoding": {
        "x": {
          "field": "date", "type": "temporal",
          "scale": {"domain": [{"year": 1998, "month": 12, "date": 1}, {"year": 2014, "month": 11, "date": 1}]},
          "axis": {
            "format": "%b-%y",
            "values": [{"year":1998,"month":12,"date":1},{"year":1999,"month":12,"date":1},{"year":2000,"month":12,"date":1},{"year":2001,"month":12,"date":1},{"year":2002,"month":12,"date":1},{"year":2003,"month":12,"date":1},{"year":2004,"month":12,"date":1},{"year":2005,"month":12,"date":1},{"year":2006,"month":12,"date":1},{"year":2007,"month":12,"date":1},{"year":2008,"month":12,"date":1},{"year":2009,"month":12,"date":1},{"year":2010,"month":12,"date":1},{"year":2011,"month":12,"date":1},{"year":2012,"month":12,"date":1},{"year":2013,"month":12,"date":1}],
            "domainColor": "#404040", "domainWidth": 2, "labelPadding": 8, "labelFontSize": 9.5, "labelColor": "#595959", "labelOverlap": false, "labelFlush": false, "labelBound": false
          }
        }
      },
      "layer": [
        {"mark": "area", "encoding": {
          "y": {"field": "cdTop", "type": "quantitative", "scale": {"domain": [0, 100], "nice": false}, "axis": {"values": [0,10,20,30,40,50,60,70,80,90,100], "labelExpr": "datum.value + '%'", "labelOverlap": false}},
          "color": {"datum": "Consumer Disretionary", "scale": {"domain": ["Consumer Disretionary", "Financials", "Industrials", "Information Technology", "Materials", "Consumer Staples", "Energy", "Health Care", "Telecom. Services", "Utilities"], "range": ["#4f5b2f", "#637337", "#9db35c", "#c6d4a0", "#dce4c4", "#722a29", "#933a35", "#c86b67", "#dc9a95", "#efd3d4"]}, "legend": {"title": null}}
        }},
        {"mark": "area", "encoding": {"y": {"field": "finTop", "type": "quantitative", "axis": {"values": [0,10,20,30,40,50,60,70,80,90,100], "labelExpr": "datum.value + '%'", "labelOverlap": false}}, "y2": {"field": "cdTop"}, "color": {"datum": "Financials"}}},
        {"mark": "area", "encoding": {"y": {"field": "indTop", "type": "quantitative", "axis": {"values": [0,10,20,30,40,50,60,70,80,90,100], "labelExpr": "datum.value + '%'", "labelOverlap": false}}, "y2": {"field": "finTop"}, "color": {"datum": "Industrials"}}},
        {"mark": "area", "encoding": {"y": {"field": "itTop", "type": "quantitative", "axis": {"values": [0,10,20,30,40,50,60,70,80,90,100], "labelExpr": "datum.value + '%'", "labelOverlap": false}}, "y2": {"field": "indTop"}, "color": {"datum": "Information Technology"}}},
        {"mark": "area", "encoding": {"y": {"field": "matTop", "type": "quantitative", "axis": {"values": [0,10,20,30,40,50,60,70,80,90,100], "labelExpr": "datum.value + '%'", "labelOverlap": false}}, "y2": {"field": "itTop"}, "color": {"datum": "Materials"}}},
        {"mark": "area", "encoding": {"y": {"field": "csTop", "type": "quantitative", "axis": {"values": [0,10,20,30,40,50,60,70,80,90,100], "labelExpr": "datum.value + '%'", "labelOverlap": false}}, "y2": {"field": "matTop"}, "color": {"datum": "Consumer Staples"}}},
        {"mark": "area", "encoding": {"y": {"field": "enTop", "type": "quantitative", "axis": {"values": [0,10,20,30,40,50,60,70,80,90,100], "labelExpr": "datum.value + '%'", "labelOverlap": false}}, "y2": {"field": "csTop"}, "color": {"datum": "Energy"}}},
        {"mark": "area", "encoding": {"y": {"field": "hcTop", "type": "quantitative", "axis": {"values": [0,10,20,30,40,50,60,70,80,90,100], "labelExpr": "datum.value + '%'", "labelOverlap": false}}, "y2": {"field": "enTop"}, "color": {"datum": "Health Care"}}},
        {"mark": "area", "encoding": {"y": {"field": "telTop", "type": "quantitative", "axis": {"values": [0,10,20,30,40,50,60,70,80,90,100], "labelExpr": "datum.value + '%'", "labelOverlap": false}}, "y2": {"field": "hcTop"}, "color": {"datum": "Telecom. Services"}}},
        {"mark": "area", "encoding": {"y": {"field": "telTop", "type": "quantitative", "axis": {"values": [0,10,20,30,40,50,60,70,80,90,100], "labelExpr": "datum.value + '%'", "labelOverlap": false}}, "y2": {"datum": 100}, "color": {"datum": "Utilities"}}}
      ]
    },
    {"mark": {"type": "rule", "color": "#d9d9d9", "strokeWidth": 1}, "encoding": {"y": {"datum": 100, "type": "quantitative", "axis": {"values": [0,10,20,30,40,50,60,70,80,90,100], "labelExpr": "datum.value + '%'", "labelOverlap": false}}}}
  ]
}
